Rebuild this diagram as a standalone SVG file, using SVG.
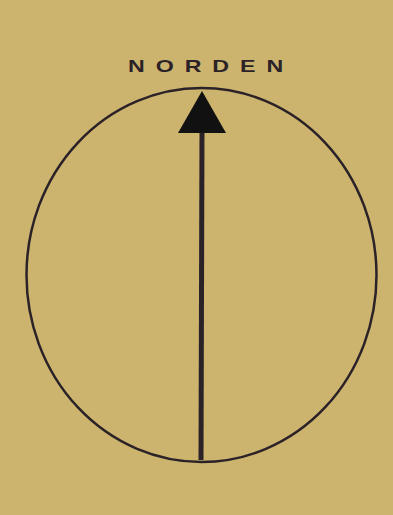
<svg xmlns="http://www.w3.org/2000/svg" width="393" height="515" viewBox="0 0 393 515">
<style>
.ln{fill:none;stroke:#2b2228;stroke-width:2.5}
.lbl{font-family:"Liberation Sans",Arial,sans-serif;font-weight:bold;font-size:16px;fill:#2b2228}
</style>
<rect width="393" height="515" fill="#ccb46e"/>
<g id="circle"><ellipse class="ln" cx="201.5" cy="275" rx="175" ry="187"/></g>
<g id="label" transform="translate(128,72) scale(1.45,1)"><text class="lbl" x="0" y="0" textLength="107" lengthAdjust="spacing">NORDEN</text></g>
<g id="connectors">
<line x1="201" y1="460" x2="202" y2="130" stroke="#2b2228" stroke-width="5"/>
<polygon points="202,91 178,133 226,133" fill="#111"/>
</g>
</svg>
